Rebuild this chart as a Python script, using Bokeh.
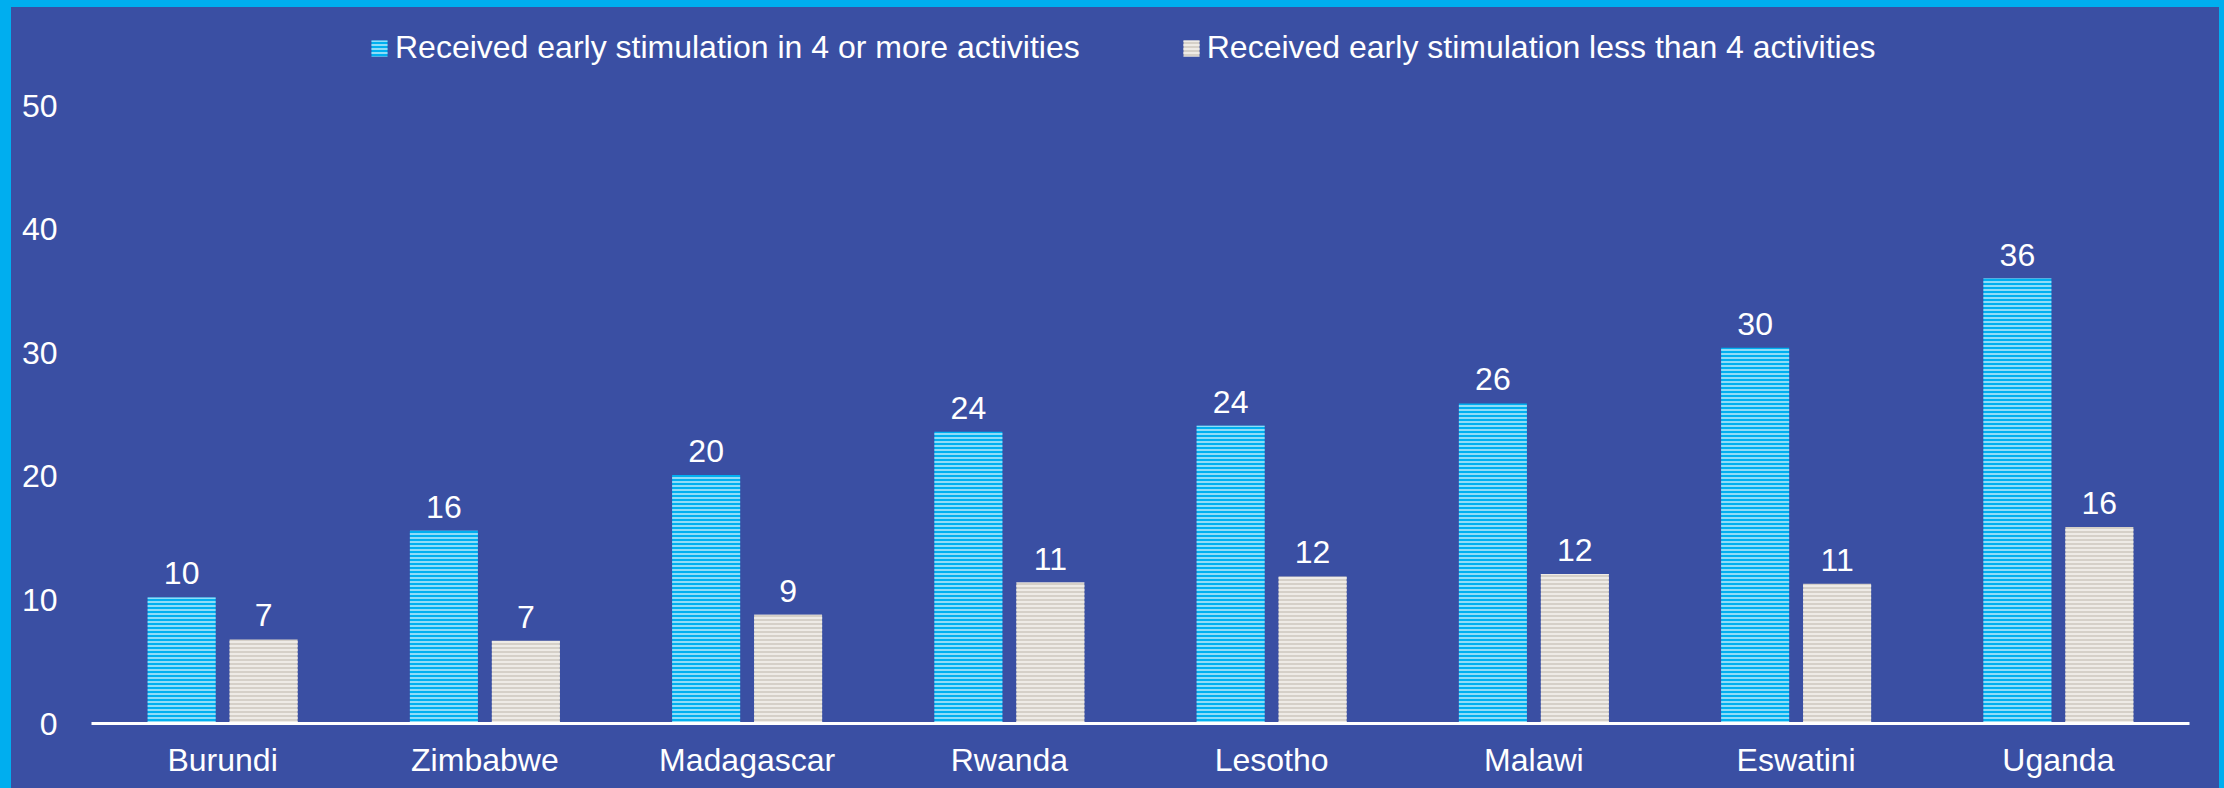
from bokeh.plotting import figure
from bokeh.models import ColumnDataSource, FactorRange, Range1d, FixedTicker, Legend, LegendItem
from bokeh.transform import dodge
from bokeh.core.properties import value
from bokeh.embed import file_html
from bokeh.resources import INLINE

countries = ["Burundi", "Zimbabwe", "Madagascar", "Rwanda", "Lesotho", "Malawi", "Eswatini", "Uganda"]
four_plus = [10.2, 15.6, 20.1, 23.6, 24.1, 25.9, 30.4, 36.0]
less_four = [6.8, 6.7, 8.8, 11.4, 11.9, 12.1, 11.3, 15.9]
series_names = ["Received early stimulation in 4 or more activities",
                "Received early stimulation less than 4 activities"]
y_ticks = [0, 10, 20, 30, 40, 50]

BG = "#3A4FA3"
FRAME = "#00AEEF"
FONT = "Liberation Sans"
FS = "32px"

src = ColumnDataSource(dict(
    country=countries,
    four=four_plus,
    less=less_four,
    four_lbl=[f"{v:.0f}" for v in four_plus],
    less_lbl=[f"{v:.0f}" for v in less_four],
))

p = figure(width=2208, height=781, x_range=FactorRange(factors=countries),
           y_range=Range1d(0, 57.93), output_backend="svg", toolbar_location=None,
           min_border_left=80, min_border_right=30, min_border_top=0, min_border_bottom=65)
p.styles = {"background-color": BG}
p.background_fill_color = None
p.border_fill_color = None
p.outline_line_color = None
p.xgrid.grid_line_color = None
p.ygrid.grid_line_color = None

off = 0.1563
bw = 0.2593
r1 = p.vbar(x=dodge("country", -off, range=p.x_range), top="four", width=bw, source=src,
            fill_color="#00B0F0", line_color=None,
            hatch_pattern="horizontal_line", hatch_color="#8FDCF8", hatch_scale=4, hatch_weight=2)
r2 = p.vbar(x=dodge("country", off, range=p.x_range), top="less", width=bw, source=src,
            fill_color="#D5D0C8", line_color=None,
            hatch_pattern="horizontal_line", hatch_color="#EEEBE6", hatch_scale=4, hatch_weight=2)

for xo, col, lbl in [(-off, "four", "four_lbl"), (off, "less", "less_lbl")]:
    p.text(x=dodge("country", xo, range=p.x_range), y=col, text=lbl, source=src,
           text_align="center", text_baseline="middle", y_offset=-24,
           text_color="white", text_font=value(FONT), text_font_size=FS)

# axes
p.xaxis.axis_line_color = "white"
p.xaxis.axis_line_width = 3
p.xaxis.major_tick_line_color = None
p.xaxis.minor_tick_line_color = None
p.xaxis.major_label_text_color = "white"
p.xaxis.major_label_text_font = FONT
p.xaxis.major_label_text_font_size = FS
p.xaxis.major_label_standoff = 12

p.yaxis.ticker = FixedTicker(ticks=y_ticks)
p.yaxis.axis_line_color = None
p.yaxis.major_tick_line_color = None
p.yaxis.minor_tick_line_color = None
p.yaxis.major_label_text_color = "white"
p.yaxis.major_label_text_font = FONT
p.yaxis.major_label_text_font_size = FS
p.yaxis.major_label_standoff = 28

legend = Legend(items=[LegendItem(label=series_names[0], renderers=[r1]),
                       LegendItem(label=series_names[1], renderers=[r2])],
                orientation="horizontal", location=(278, 657),
                label_text_color="white", label_text_font=FONT, label_text_font_size=FS,
                glyph_width=20, glyph_height=20, label_standoff=6, spacing=101,
                padding=0, margin=0, background_fill_alpha=0, border_line_alpha=0)
p.add_layout(legend, "center")

html = file_html(p, INLINE)
css = ("<style>html, body {margin:0 !important; background-color:%s !important;}"
       " body {padding:7px 5px 0 11px !important; box-sizing:border-box; overflow:hidden;}</style>" % FRAME)
html = html.replace("</head>", css + "</head>", 1)
open("out.html", "w").write(html)
